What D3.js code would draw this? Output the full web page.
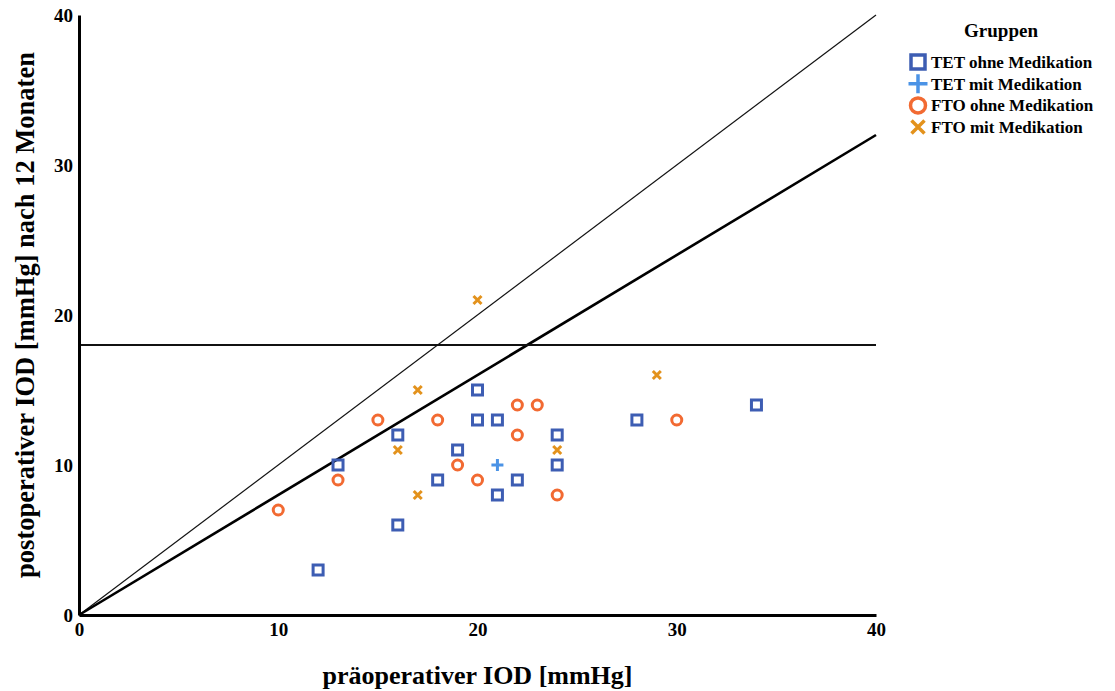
<!DOCTYPE html>
<html>
<head>
<meta charset="utf-8">
<script src="https://cdn.jsdelivr.net/npm/d3@7"></script>
<style>
  html, body { margin: 0; padding: 0; background: #fff; }
  svg text { font-family: "Liberation Serif", "Times New Roman", serif; font-weight: bold; }
</style>
</head>
<body>
<svg id="chart" width="1115" height="691"></svg>
<script>
// Pre- vs. postoperative IOD per group
const tetOhne = [[12,3],[13,10],[16,12],[16,6],[18,9],[19,11],[20,15],[20,13],[21,13],[21,8],[22,9],[24,12],[24,10],[28,13],[34,14]];
const tetMit = [[21,10]];
const ftoOhne = [[10,7],[13,9],[15,13],[18,13],[19,10],[20,9],[22,14],[23,14],[22,12],[24,8],[30,13]];
const ftoMit = [[20,21],[17,15],[16,11],[17,8],[24,11],[29,16]];

const xTicks = [0, 10, 20, 30, 40];
const yTicks = [0, 10, 20, 30, 40];
const groupNames = ["TET ohne Medikation", "TET mit Medikation", "FTO ohne Medikation", "FTO mit Medikation"];
const threshold = 18;     // horizontal reference line
const slopes = [1, 0.8];  // identity line and 20 % reduction line

const svg = d3.select("#chart");
const x = d3.scaleLinear().domain([0, 40]).range([79, 876]);
const y = d3.scaleLinear().domain([0, 40]).range([615, 15]);

const colors = { sq: "#3d5db3", plus: "#4b93e6", circ: "#f26a32", cross: "#e3921c" };

// reference lines
const lines = svg.append("g");
lines.append("line")
  .attr("x1", x(0)).attr("y1", y(0)).attr("x2", x(40)).attr("y2", y(40 * slopes[0]))
  .attr("stroke", "#111").attr("stroke-width", 1.2);
lines.append("line")
  .attr("x1", x(0)).attr("y1", y(0)).attr("x2", x(40)).attr("y2", y(40 * slopes[1]))
  .attr("stroke", "#000").attr("stroke-width", 2.6);
lines.append("line")
  .attr("x1", x(0)).attr("y1", y(threshold)).attr("x2", x(40)).attr("y2", y(threshold))
  .attr("stroke", "#111").attr("stroke-width", 2);

// axes
const xAxis = svg.append("g").attr("transform", `translate(0,${y(0)})`)
  .call(d3.axisBottom(x).tickValues(xTicks).tickSize(0).tickPadding(8));
const yAxis = svg.append("g").attr("transform", `translate(${x(0)},0)`)
  .call(d3.axisLeft(y).tickValues(yTicks).tickSize(0).tickPadding(6));
[xAxis, yAxis].forEach(g => {
  g.select(".domain").attr("stroke", "#000").attr("stroke-width", 3);
  g.selectAll("text").attr("font-size", 19).attr("fill", "#000")
    .attr("font-family", "'Liberation Serif', serif").attr("font-weight", "bold");
});

// markers
function drawSquare(g, s, w) {
  g.append("rect").attr("x", -s/2).attr("y", -s/2).attr("width", s).attr("height", s)
    .attr("fill", "none").attr("stroke", colors.sq).attr("stroke-width", w);
}
function drawPlus(g, s, w) {
  g.append("path").attr("d", `M${-s/2},0H${s/2}M0,${-s/2}V${s/2}`)
    .attr("stroke", colors.plus).attr("stroke-width", w).attr("fill", "none");
}
function drawCircle(g, r, w) {
  g.append("circle").attr("r", r).attr("fill", "none").attr("stroke", colors.circ).attr("stroke-width", w);
}
function drawCross(g, s, w) {
  g.append("path").attr("d", `M${-s/2},${-s/2}L${s/2},${s/2}M${-s/2},${s/2}L${s/2},${-s/2}`)
    .attr("stroke", colors.cross).attr("stroke-width", w).attr("fill", "none");
}

const series = [
  { data: tetOhne, draw: g => drawSquare(g, 10, 3) },
  { data: tetMit, draw: g => drawPlus(g, 12, 3) },
  { data: ftoOhne, draw: g => drawCircle(g, 5, 3) },
  { data: ftoMit, draw: g => drawCross(g, 8, 3) }
];
series.forEach(s => {
  svg.append("g").selectAll("g").data(s.data).join("g")
    .attr("transform", d => `translate(${x(d[0])},${y(d[1])})`)
    .each(function() { s.draw(d3.select(this)); });
});

// axis titles
svg.append("text").attr("x", (x(0) + x(40)) / 2).attr("y", 684)
  .attr("text-anchor", "middle").attr("font-size", 26).text("präoperativer IOD [mmHg]");
svg.append("text").attr("transform", `translate(34,315) rotate(-90)`)
  .attr("text-anchor", "middle").attr("font-size", 26.5).text("postoperativer IOD [mmHg] nach 12 Monaten");

// legend
const legend = svg.append("g");
legend.append("text").attr("x", 1001).attr("y", 37).attr("text-anchor", "middle")
  .attr("font-size", 19).text("Gruppen");
const legendDraw = [
  g => drawSquare(g, 14, 3.5),
  g => drawPlus(g, 19, 3.5),
  g => drawCircle(g, 7.5, 3.5),
  g => drawCross(g, 13, 3.5)
];
groupNames.forEach((name, i) => {
  const yy = 62 + i * 21.7;
  const g = legend.append("g").attr("transform", `translate(918,${yy})`);
  legendDraw[i](g);
  legend.append("text").attr("x", 931).attr("y", yy + 6).attr("font-size", 17).text(name);
});
</script>
</body>
</html>
